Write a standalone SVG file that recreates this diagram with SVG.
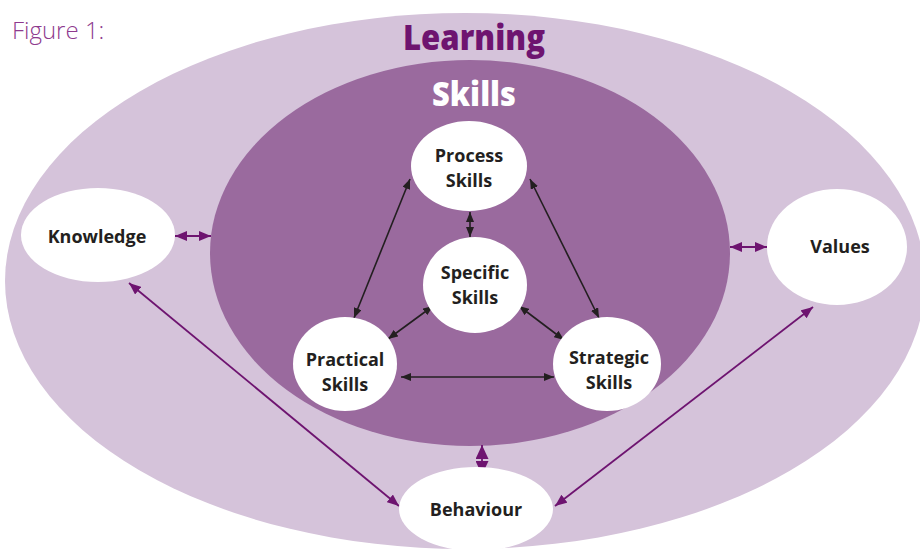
<svg xmlns="http://www.w3.org/2000/svg" width="920" height="549" viewBox="0 0 920 549">
  <style>
    .node { fill: #ffffff; }
    .lbl { font-family: "Open Sans", "Liberation Sans", sans-serif; font-weight: 700; font-size: 18px; fill: #231f20; text-anchor: middle; }
    .title { font-family: "Open Sans", "Liberation Sans", sans-serif; font-weight: 800; text-anchor: middle; }
    .blk { stroke: #231f20; stroke-width: 1.6; fill: none; }
    .pur { stroke: #6e1470; stroke-width: 1.8; fill: none; }
  </style>
  <defs>
    <marker id="ah-black" viewBox="0 0 10 8" refX="10" refY="4" markerWidth="10" markerHeight="8" markerUnits="userSpaceOnUse" orient="auto-start-reverse">
      <path d="M0,0 L10,4 L0,8 z" fill="#231f20"/>
    </marker>
    <marker id="ah-purple" viewBox="0 0 12 10" refX="12" refY="5" markerWidth="12" markerHeight="10" markerUnits="userSpaceOnUse" orient="auto-start-reverse">
      <path d="M0,0 L12,5 L0,10 z" fill="#6e1470"/>
    </marker>
    <marker id="ah-big" viewBox="0 0 14 13" refX="14" refY="6.5" markerWidth="14" markerHeight="13" markerUnits="userSpaceOnUse" orient="auto-start-reverse">
      <path d="M0,0 L14,6.5 L0,13 z" fill="#6e1470"/>
    </marker>
  </defs>

  <rect width="920" height="549" fill="#ffffff"/>

  <text x="12" y="39" font-family="'Open Sans', 'Liberation Sans', sans-serif" font-weight="300" font-size="24" fill="#8e3a8e">Figure 1:</text>

  <!-- Learning ring -->
  <g id="learning">
    <ellipse cx="465" cy="281" rx="460" ry="268" fill="#d5c3da"/>
    <text class="title" x="474" y="50" font-size="36" fill="#6e1470" textLength="142" lengthAdjust="spacingAndGlyphs">Learning</text>
  </g>

  <!-- Skills area -->
  <g id="skills">
    <ellipse cx="470" cy="253" rx="260" ry="193" fill="#9a6a9e"/>
    <text class="title" x="474" y="106" font-size="34" fill="#ffffff" textLength="84" lengthAdjust="spacingAndGlyphs">Skills</text>
  </g>

  <g id="connectors">
    <line class="blk" x1="410" y1="179" x2="354" y2="318" marker-start="url(#ah-black)" marker-end="url(#ah-black)"/>
    <line class="blk" x1="530" y1="179" x2="599" y2="318" marker-start="url(#ah-black)" marker-end="url(#ah-black)"/>
    <line class="blk" x1="470" y1="212" x2="470" y2="237" marker-start="url(#ah-black)" marker-end="url(#ah-black)"/>
    <line class="blk" x1="433" y1="306" x2="388" y2="339" marker-start="url(#ah-black)" marker-end="url(#ah-black)"/>
    <line class="blk" x1="519" y1="306" x2="564" y2="340" marker-start="url(#ah-black)" marker-end="url(#ah-black)"/>
    <line class="blk" x1="401" y1="377" x2="554" y2="377" marker-start="url(#ah-black)" marker-end="url(#ah-black)"/>

    <line class="pur" x1="175" y1="236" x2="211" y2="236" marker-start="url(#ah-purple)" marker-end="url(#ah-purple)"/>
    <line class="pur" x1="730" y1="247" x2="767" y2="247" marker-start="url(#ah-purple)" marker-end="url(#ah-purple)"/>
    <line class="pur" x1="129" y1="283" x2="399" y2="506" marker-start="url(#ah-purple)" marker-end="url(#ah-purple)"/>
    <line class="pur" x1="813" y1="307" x2="555" y2="506" marker-start="url(#ah-purple)" marker-end="url(#ah-purple)"/>
    <line class="pur" x1="482" y1="445" x2="482" y2="475" marker-start="url(#ah-big)" marker-end="url(#ah-big)"/>
  </g>

  <g id="process-skills">
    <ellipse class="node" cx="469" cy="166" rx="58" ry="45"/>
    <text class="lbl" x="469" y="162">Process</text>
    <text class="lbl" x="469" y="187">Skills</text>
  </g>
  <g id="specific-skills">
    <ellipse class="node" cx="475" cy="285" rx="52" ry="48"/>
    <text class="lbl" x="475" y="279">Specific</text>
    <text class="lbl" x="475" y="304">Skills</text>
  </g>
  <g id="practical-skills">
    <ellipse class="node" cx="345" cy="364" rx="52" ry="47"/>
    <text class="lbl" x="345" y="366">Practical</text>
    <text class="lbl" x="345" y="391">Skills</text>
  </g>
  <g id="strategic-skills">
    <ellipse class="node" cx="607" cy="364" rx="54" ry="47"/>
    <text class="lbl" x="609" y="364">Strategic</text>
    <text class="lbl" x="609" y="389">Skills</text>
  </g>
  <g id="knowledge">
    <ellipse class="node" cx="98" cy="235" rx="77" ry="47"/>
    <text class="lbl" x="97" y="243">Knowledge</text>
  </g>
  <g id="values">
    <ellipse class="node" cx="837" cy="247" rx="70" ry="58"/>
    <text class="lbl" x="840" y="253">Values</text>
  </g>
  <g id="behaviour">
    <ellipse class="node" cx="476" cy="509" rx="77" ry="42"/>
    <text class="lbl" x="476" y="516">Behaviour</text>
  </g>
</svg>
